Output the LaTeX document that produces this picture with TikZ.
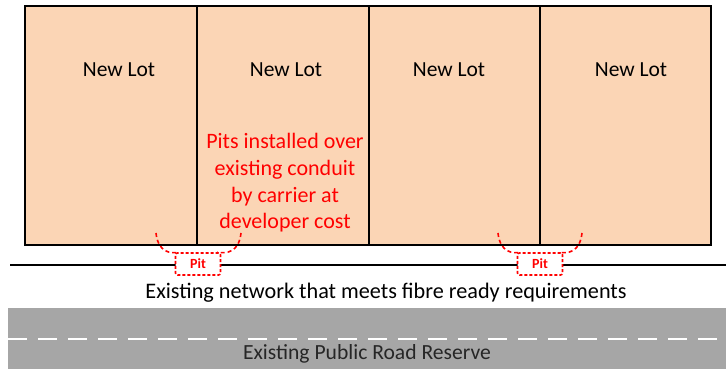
\documentclass[tikz,border=0pt]{standalone}
\usepackage{fontspec}
\setmainfont{Carlito}
\definecolor{lotfill}{RGB}{251,213,181}
\definecolor{roadgray}{RGB}{166,166,166}
\definecolor{pitred}{RGB}{255,0,0}
\begin{document}
\begin{tikzpicture}[x=1pt,y=-1pt,
  lottext/.style={font=\fontsize{21.5}{24}\selectfont, text=black},
  pitbox/.style={draw=pitred, dashed, line width=1.6pt, dash pattern=on 3pt off 2pt, rounded corners=2pt, fill=white, minimum width=45pt, minimum height=22pt, inner sep=0pt, font=\fontsize{14}{15}\selectfont\bfseries, text=pitred},
  pitlink/.style={draw=pitred, line width=1.6pt, dash pattern=on 4pt off 3pt},
  bigtext/.style={font=\fontsize{22.2}{24}\selectfont}]
\useasboundingbox (0,0) rectangle (726,371);
% road
\fill[roadgray] (8,307) rectangle (726,369);
\draw[white, line width=1pt] (8,307.5) -- (726,307.5);
\draw[white, line width=1.5pt, dash pattern=on 19pt off 11pt] (8,339) -- (726,339);
\node[font=\fontsize{21.6}{24}\selectfont, text=black!85] (road) at (367,354) {Existing Public Road Reserve};
% network line
\coordinate (netL) at (10,265);
\coordinate (netR) at (726,265);
\draw[line width=1.4pt] (netL) -- (netR);
\node[bigtext] (net) at (386,293) {Existing network that meets fibre ready requirements};
% lots
\fill[lotfill] (25,6) rectangle (711,245);
\foreach \x in {197,369,540} \draw[line width=1.5pt] (\x,6) -- (\x,245);
\draw[line width=2pt] (25,6) rectangle (711,245);
\node[lottext] (lot1) at (119,70) {New Lot};
\node[lottext] (lot2) at (286,70) {New Lot};
\node[lottext] (lot3) at (449,70) {New Lot};
\node[lottext] (lot4) at (631,70) {New Lot};
\node[text=pitred, align=center, font=\fontsize{22}{26.7}\selectfont] (note) at (285,183) {Pits installed over\\existing conduit\\by carrier at\\developer cost};
% pits
\node[pitbox] (pit1) at (198,264) {Pit};
\node[pitbox] (pit2) at (540,264) {Pit};
\coordinate (a1) at (156,233);
\coordinate (b1) at (241,233);
\coordinate (a2) at (498,233);
\coordinate (b2) at (582,233);
\draw[pitlink] (a1) .. controls (158,252) and (170,254) .. ([xshift=4pt]pit1.north west);
\draw[pitlink] (b1) .. controls (239,252) and (227,254) .. ([xshift=-4pt]pit1.north east);
\draw[pitlink] (a2) .. controls (500,252) and (512,254) .. ([xshift=4pt]pit2.north west);
\draw[pitlink] (b2) .. controls (580,252) and (568,254) .. ([xshift=-4pt]pit2.north east);
\end{tikzpicture}
\end{document}
